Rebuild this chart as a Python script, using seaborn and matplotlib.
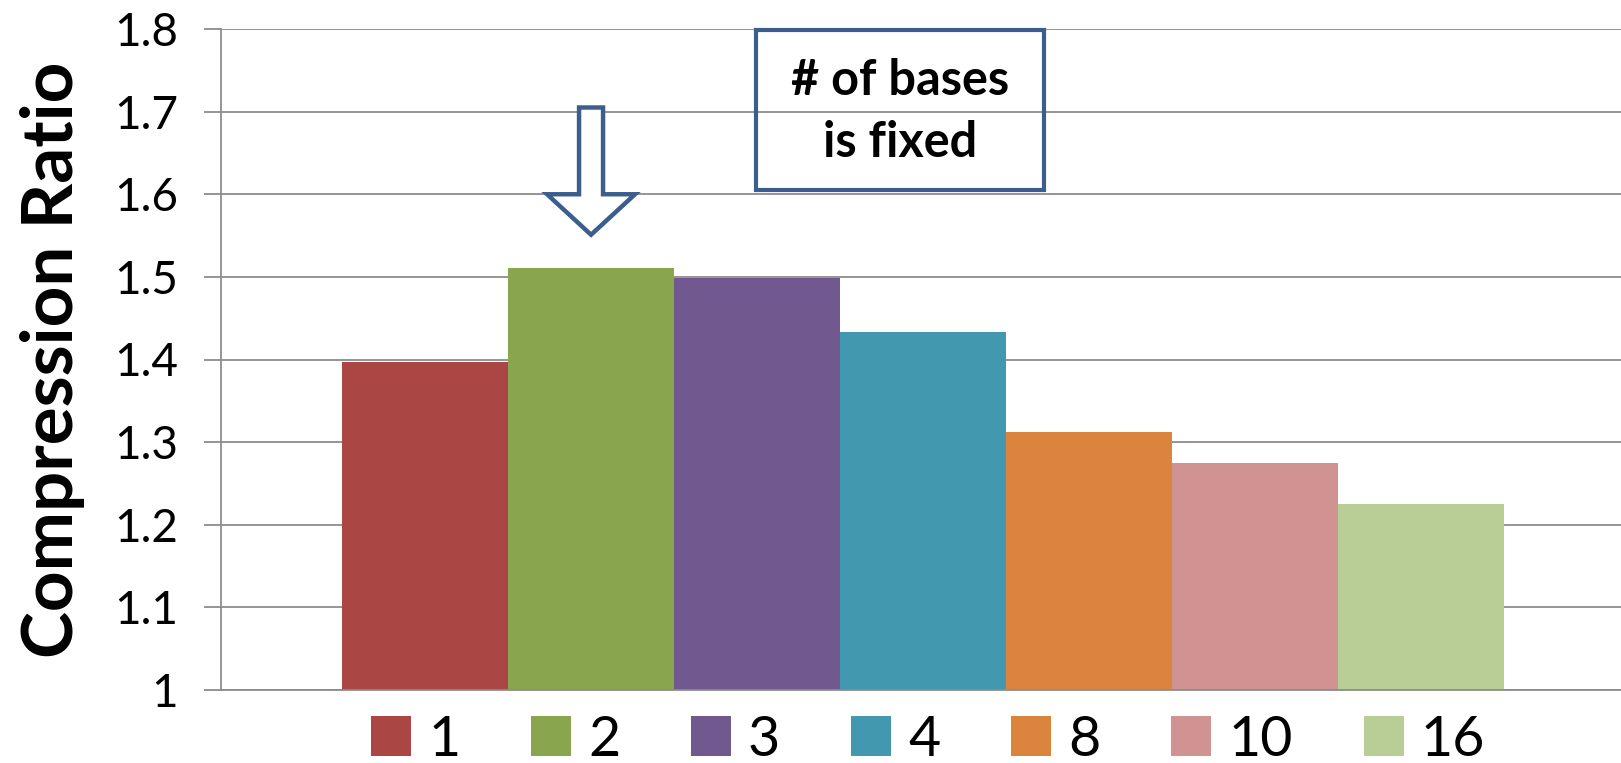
import matplotlib
matplotlib.use("Agg")
import matplotlib.pyplot as plt
from matplotlib.patches import Polygon, Rectangle
import pandas as pd
import seaborn as sns

# Compression ratio for each number of bases
bases = ["1", "2", "3", "4", "8", "10", "16"]
ratios = [1.397, 1.511, 1.499, 1.433, 1.312, 1.275, 1.225]
colors = ["#AA4643", "#89A54E", "#71588F", "#4198AF", "#DB843D", "#D19392", "#B9CD96"]
y_ticks = [1.0, 1.1, 1.2, 1.3, 1.4, 1.5, 1.6, 1.7, 1.8]
y_tick_labels = ["1", "1.1", "1.2", "1.3", "1.4", "1.5", "1.6", "1.7", "1.8"]
note_text = "# of bases\nis fixed"
highlight = "2"

df = pd.DataFrame({"group": [""] * len(bases), "bases": bases, "ratio": ratios})

sns.set_theme(style="white")
plt.rcParams["font.family"] = ["Lato", "DejaVu Sans"]
plt.rcParams["text.color"] = "black"
plt.rcParams["axes.labelcolor"] = "black"
plt.rcParams["ytick.color"] = "black"

W, H = 1621, 763
fig = plt.figure(figsize=(W / 100, H / 100), dpi=100)
ax = fig.add_axes([221 / W, 73 / H, 1404 / W, 661 / H])

grid_c = "#8C8C8C"
sns.barplot(data=df, x="group", y="ratio", hue="bases", hue_order=bases,
            palette=colors, width=0.8275, errorbar=None, saturation=1,
            linewidth=0, ax=ax)

ax.set_xlim(-0.5, 0.5)
ax.set_ylim(1.0, 1.8)
ax.set_yticks(y_ticks)
ax.set_yticklabels(y_tick_labels, fontsize=33, color="black")
ax.set_xticks([])
ax.set_xlabel("")
ax.set_ylabel("Compression Ratio", fontsize=51, fontweight="bold",
              labelpad=21, color="black")
ax.yaxis.grid(True, color=grid_c, linewidth=1.3)
ax.set_axisbelow(True)
for side in ("top", "right"):
    ax.spines[side].set_visible(False)
for side in ("left", "bottom"):
    ax.spines[side].set_color(grid_c)
    ax.spines[side].set_linewidth(1.3)
ax.tick_params(axis="y", which="major", left=True, length=12, width=1.3,
               color=grid_c, labelcolor="black", pad=19, direction="out")

# Legend along the bottom
handles, labels = ax.get_legend_handles_labels()
if ax.get_legend() is not None:
    ax.get_legend().remove()
fig.legend(handles, labels, loc="center", bbox_to_anchor=(928 / W, 1 - 740 / H),
           ncol=len(bases), frameon=False, fontsize=40, handlelength=0.72,
           handleheight=0.72, handletextpad=0.3, columnspacing=1.28,
           borderaxespad=0, borderpad=0)

# Hollow down arrow above the highlighted bar
idx = bases.index(highlight)
bar = ax.patches[idx]
cx = bar.get_x() + bar.get_width() / 2
px = 1.0 / 1404  # data units per pixel along x
sw, hw = 12 * px, 44 * px
y_top, y_sh, y_tip = 1.705, 1.6, 1.551
arrow = Polygon([(cx - sw, y_top), (cx + sw, y_top), (cx + sw, y_sh),
                 (cx + hw, y_sh), (cx, y_tip), (cx - hw, y_sh), (cx - sw, y_sh)],
                closed=True, facecolor="white", edgecolor="#3B5E8C",
                linewidth=3.2, joinstyle="miter", zorder=4)
ax.add_patch(arrow)

# Note box
box = Rectangle((0.381, 0.7564), 0.205, 0.242, transform=ax.transAxes,
                fill=False, edgecolor="#3B5E8C", linewidth=3.0, zorder=4,
                clip_on=False)
ax.add_patch(box)
ax.text(0.4835, 0.875, note_text, transform=ax.transAxes, ha="center",
        va="center", fontsize=35, fontweight="bold", linespacing=1.45, zorder=5)

fig.savefig("out.png", dpi=100)
